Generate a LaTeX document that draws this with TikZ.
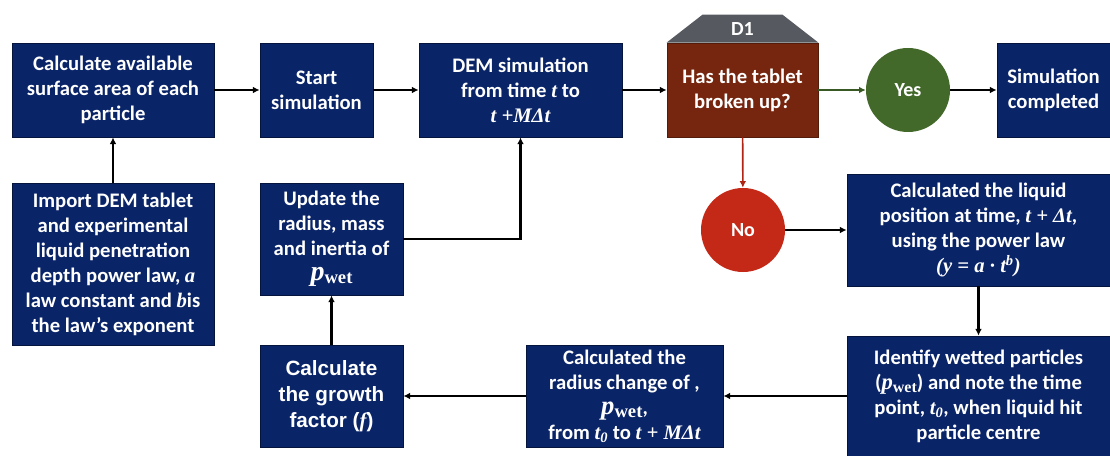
\documentclass[tikz,border=0pt]{standalone}
\usepackage{fontspec}
\setmainfont{Carlito}
\newfontfamily\arialfont{Liberation Sans}
\newfontfamily\symfont{Liberation Serif}
\usetikzlibrary{arrows.meta,positioning,calc,shadows}

\definecolor{navybox}{RGB}{10,36,104}
\definecolor{navyline}{RGB}{4,20,60}
\definecolor{brownbox}{RGB}{118,38,14}
\definecolor{roofgray}{RGB}{86,90,96}
\definecolor{yesgreen}{RGB}{66,104,42}
\definecolor{nored}{RGB}{196,40,22}

% bold italic symbols
\newcommand{\sym}[1]{{\symfont\bfseries\itshape #1}}
\newcommand{\pwetat}[2]{{\fontsize{#1}{#1}\selectfont\sym{p}}%
  \raisebox{-0.3ex}{\symfont\bfseries\fontsize{#2}{#2}\selectfont wet}}
\newcommand{\pwet}{\pwetat{17}{12}}

\begin{document}
\begin{tikzpicture}[x=0.75pt,y=-0.75pt,
  procbox/.style={rectangle,fill=navybox,draw=navyline,line width=0.6pt,text=white,
    font=\bfseries\fontsize{15.5}{18.75}\selectfont,align=center,inner sep=2pt,
    drop shadow={shadow xshift=1pt,shadow yshift=-1pt,opacity=.3}},
  decbox/.style={procbox,fill=brownbox,draw=brownbox!70!black},
  yesnode/.style={circle,fill=yesgreen,text=white,minimum size=63pt,inner sep=0pt,
    font=\bfseries\fontsize{15}{18}\selectfont},
  nonode/.style={yesnode,fill=nored},
  flow/.style={-{Latex[length=5pt,width=5pt]},line width=1.6pt,black}]

  \useasboundingbox (0,0) rectangle (1110,456);

  % top row
  \node[procbox,minimum width=151.5pt,minimum height=70.5pt] (surf) at (113,90)
    {Calculate available\\surface area of each\\particle};
  \node[procbox,minimum width=84.75pt,minimum height=70.5pt] (start) at (316.5,90)
    {Start\\simulation};
  \node[procbox,minimum width=152.25pt,minimum height=70.5pt] (dem) at (520.5,90)
    {DEM simulation\\from time \sym{t} to\\\sym{t +MΔt}};
  \node[decbox,minimum width=113.25pt,minimum height=70.5pt] (d1) at (742.5,90)
    {Has the tablet\\broken up?};
  \node[yesnode] (yes) at (908,90) {Yes};
  \node[procbox,minimum width=84.75pt,minimum height=70.5pt] (done) at (1053.5,90)
    {Simulation\\completed};

  % decision roof
  \fill[roofgray] (d1.north west) -- ($(d1.north west)+(36,-28)$)
    -- ($(d1.north east)+(-36,-28)$) -- (d1.north east) -- cycle;
  \node[text=white,font=\bfseries\fontsize{15}{18}\selectfont] (d1lab) at ($(d1.north)+(0,-14)$) {D1};

  % middle row
  \node[procbox,minimum width=151.5pt,minimum height=121.5pt] (import) at (113,264)
    {Import DEM tablet\\and experimental\\liquid penetration\\depth power law, \sym{a}\\law constant and \sym{b}is\\the law's exponent};
  \node[procbox,minimum width=107.25pt,minimum height=84pt] (update) at (331.5,239)
    {Update the\\radius, mass\\and inertia of\\\pwetat{21}{14}};
  \node[nonode] (no) at (743,230) {No};
  \node[procbox,minimum width=197.25pt,minimum height=84pt] (liquid) at (978.5,230)
    {Calculated the liquid\\position at time, \sym{t + Δt},\\using the power law\\\sym{(y = a · t\textsuperscript{b})}};

  % bottom row
  \node[procbox,minimum width=197.25pt,minimum height=90pt] (wetted) at (978.5,396)
    {Identify wetted particles\\(\pwet) and note the time\\point, \sym{t\textsubscript{0}}, when liquid hit\\particle centre};
  \node[procbox,minimum width=147.75pt,minimum height=76.5pt] (radius) at (624.5,396)
    {Calculated the\\radius change of ,\\\pwetat{20}{14},\\from \sym{t\textsubscript{0}} to \sym{t + MΔt}};
  \node[procbox,minimum width=107.25pt,minimum height=76.5pt,
    font=\arialfont\bfseries\fontsize{15.5}{19.5}\selectfont] (growth) at (331.5,396)
    {Calculate\\the growth\\factor (\sym{f})};

  % connectors
  \draw[flow] (import) -- (surf);
  \draw[flow] (surf) -- (start);
  \draw[flow] (start) -- (dem);
  \draw[flow] (dem) -- (d1);
  \draw[flow,yesgreen!85!black] (d1) -- (yes);
  \draw[flow] (yes) -- (done);
  \draw[flow,nored!90!black,line width=1.2pt] (d1) -- (no);
  \draw[flow] (no) -- (liquid);
  \draw[flow] (liquid) -- (wetted);
  \draw[flow] (wetted) -- (radius);
  \draw[flow] (radius) -- (growth);
  \draw[flow] (growth) -- (update);
  \draw[flow] (update.east) -| (dem.south);
\end{tikzpicture}
\end{document}
